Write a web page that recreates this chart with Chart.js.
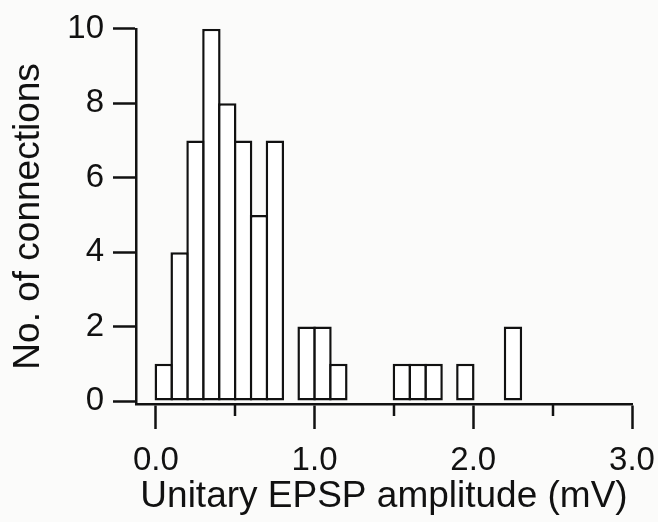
<!DOCTYPE html>
<html>
<head>
<meta charset="utf-8">
<script src="https://cdn.jsdelivr.net/npm/chart.js@4.4.0/dist/chart.umd.min.js"></script>
<style>
  html, body { margin:0; padding:0; background:#fbfbfa; }
  #wrap { width:658px; height:522px; }
</style>
</head>
<body>
<div id="wrap"><canvas id="hist" width="658" height="522"></canvas></div>
<script>
// histogram of unitary EPSP amplitudes, 0.1 mV bins (bin start -> count)
const binStarts = [0.0, 0.1, 0.2, 0.3, 0.4, 0.5, 0.6, 0.7, 0.9, 1.0, 1.1, 1.5, 1.6, 1.7, 1.9, 2.2];
const counts    = [1,   4,   7,   10,  8,   7,   5,   7,   2,   2,   1,   1,   1,   1,   1,   2];
const binWidth = 0.1;
const xTicks = [0, 0.5, 1, 1.5, 2, 2.5, 3];
const yTicks = [0, 2, 4, 6, 8, 10];

const INK = '#111';
const LW = 2.5;

(function(){
  const points = binStarts.map((b,i)=>({x: +(b + binWidth/2).toFixed(2), y: counts[i]}));

  // short ticks at the half-volt marks
  const minorTicks = {
    id: 'minorTicks',
    afterDraw(chart){
      const xs = chart.scales.x;
      const ctx = chart.ctx;
      ctx.save();
      ctx.strokeStyle = INK;
      ctx.lineWidth = LW;
      xTicks.filter(v=>!Number.isInteger(v)).forEach(v=>{
        const px = Math.round(xs.getPixelForValue(v));
        ctx.beginPath();
        ctx.moveTo(px, xs.top);
        ctx.lineTo(px, xs.top + 12);
        ctx.stroke();
      });
      ctx.restore();
    }
  };

  const font = 'Liberation Sans, Arial, Helvetica, sans-serif';

  new Chart(document.getElementById('hist').getContext('2d'), {
    type: 'bar',
    data: {
      datasets: [{
        data: points,
        backgroundColor: '#fff',
        borderColor: INK,
        borderWidth: LW,
        borderSkipped: false,
        barPercentage: 1.16,
        categoryPercentage: 1
      }]
    },
    options: {
      responsive: false,
      animation: false,
      layout: { padding: { top: 21, right: 26, left: 0, bottom: 0 } },
      plugins: { legend: { display: false }, tooltip: { enabled: false } },
      scales: {
        x: {
          type: 'linear',
          offset: false,
          min: -0.125,
          max: 3.0,
          afterBuildTicks: s => { s.ticks = xTicks.map(v=>({value:v})); },
          afterFit: s => { s.height = 118; s.paddingLeft = 0; s.paddingRight = 0; },
          grid: {
            offset: false,
            drawOnChartArea: false,
            drawTicks: true,
            tickLength: 25,
            tickWidth: LW,
            tickColor: c => Number.isInteger(c.tick && c.tick.value) ? INK : 'rgba(0,0,0,0)'
          },
          border: { display: true, color: INK, width: LW },
          ticks: {
            autoSkip: false,
            maxRotation: 0,
            color: INK,
            padding: 12,
            font: { family: font, size: 33 },
            callback: v => Number.isInteger(v) ? v.toFixed(1) : ''
          },
          title: {
            display: true,
            text: 'Unitary EPSP amplitude (mV)',
            color: INK,
            font: { family: font, size: 37 },
            padding: { top: 0, bottom: 3 }
          }
        },
        y: {
          min: -0.08,
          max: 10,
          afterBuildTicks: s => { s.ticks = yTicks.map(v=>({value:v})); },
          afterFit: s => { s.width = 136; },
          grid: {
            drawOnChartArea: false,
            drawTicks: true,
            tickLength: 23,
            tickWidth: LW,
            tickColor: INK
          },
          border: { display: true, color: INK, width: LW },
          ticks: {
            color: INK,
            padding: 9,
            font: { family: font, size: 33 }
          },
          title: {
            display: true,
            text: 'No. of connections',
            color: INK,
            font: { family: font, size: 37 },
            padding: { top: 7, bottom: 0 }
          }
        }
      }
    },
    plugins: [minorTicks]
  });
})();
</script>
</body>
</html>
